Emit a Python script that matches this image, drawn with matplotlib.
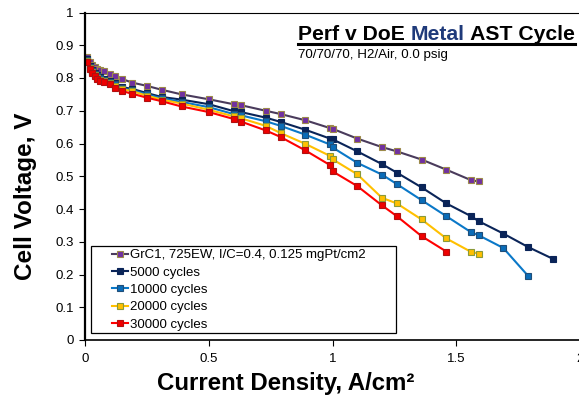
import matplotlib
matplotlib.use("Agg")
import matplotlib.pyplot as plt
from matplotlib.lines import Line2D
from matplotlib.patches import Rectangle

plt.rcParams['font.family'] = ['Liberation Sans', 'DejaVu Sans']

# Polarization data
j_base = [0.01, 0.02, 0.03, 0.04, 0.05, 0.06, 0.075, 0.1, 0.12, 0.15, 0.19, 0.25, 0.31, 0.39,
          0.5, 0.6, 0.63, 0.73, 0.79, 0.89, 0.99, 1.0, 1.1, 1.2, 1.26, 1.36, 1.46, 1.56, 1.59]
v_base = [0.864, 0.848, 0.840, 0.834, 0.829, 0.825, 0.820, 0.811, 0.805, 0.797, 0.786, 0.776, 0.764, 0.750,
          0.735, 0.720, 0.717, 0.700, 0.690, 0.671, 0.647, 0.645, 0.615, 0.589, 0.576, 0.551, 0.520, 0.488, 0.484]

j_5k = [0.01, 0.02, 0.03, 0.04, 0.05, 0.06, 0.075, 0.1, 0.12, 0.15, 0.19, 0.25, 0.31, 0.39,
        0.5, 0.6, 0.63, 0.73, 0.79, 0.89, 0.99, 1.0, 1.1, 1.2, 1.26, 1.36, 1.46, 1.56, 1.59,
        1.69, 1.79, 1.89]
v_5k = [0.858, 0.838, 0.825, 0.815, 0.808, 0.802, 0.797, 0.791, 0.784, 0.772, 0.767, 0.754, 0.742, 0.734,
        0.720, 0.699, 0.696, 0.679, 0.666, 0.642, 0.615, 0.613, 0.576, 0.537, 0.511, 0.466, 0.417, 0.378, 0.363,
        0.325, 0.284, 0.248]

j_10k = [0.01, 0.02, 0.03, 0.04, 0.05, 0.06, 0.075, 0.1, 0.12, 0.15, 0.19, 0.25, 0.31, 0.39,
         0.5, 0.6, 0.63, 0.73, 0.79, 0.89, 0.99, 1.0, 1.1, 1.2, 1.26, 1.36, 1.46, 1.56, 1.59,
         1.69, 1.79]
v_10k = [0.855, 0.835, 0.822, 0.812, 0.805, 0.799, 0.794, 0.788, 0.781, 0.768, 0.763, 0.750, 0.738, 0.727,
         0.711, 0.690, 0.686, 0.668, 0.654, 0.627, 0.597, 0.588, 0.541, 0.505, 0.476, 0.427, 0.378, 0.329, 0.320,
         0.281, 0.196]

j_20k = [0.01, 0.02, 0.03, 0.04, 0.05, 0.06, 0.075, 0.1, 0.12, 0.15, 0.19, 0.25, 0.31, 0.39,
         0.5, 0.6, 0.63, 0.73, 0.79, 0.89, 0.99, 1.0, 1.1, 1.2, 1.26, 1.36, 1.46, 1.56, 1.59]
v_20k = [0.852, 0.832, 0.818, 0.808, 0.801, 0.795, 0.791, 0.785, 0.777, 0.766, 0.760, 0.746, 0.734, 0.722,
         0.703, 0.683, 0.677, 0.654, 0.632, 0.599, 0.562, 0.552, 0.506, 0.434, 0.417, 0.368, 0.310, 0.269, 0.264]

j_30k = [0.01, 0.02, 0.03, 0.04, 0.05, 0.06, 0.075, 0.1, 0.12, 0.15, 0.19, 0.25, 0.31, 0.39,
         0.5, 0.6, 0.63, 0.73, 0.79, 0.89, 0.99, 1.0, 1.1, 1.2, 1.26, 1.36, 1.46]
v_30k = [0.849, 0.828, 0.815, 0.805, 0.798, 0.792, 0.787, 0.782, 0.768, 0.760, 0.752, 0.740, 0.729, 0.713,
         0.696, 0.675, 0.667, 0.640, 0.620, 0.579, 0.534, 0.515, 0.470, 0.411, 0.378, 0.317, 0.270]

labels = ["GrC1, 725EW, I/C=0.4, 0.125 mgPt/cm2", "5000 cycles", "10000 cycles",
          "20000 cycles", "30000 cycles"]
xticks = [0, 0.5, 1, 1.5, 2]
xtick_labels = ["0", "0.5", "1", "1.5", "2"]
yticks = [0, 0.1, 0.2, 0.3, 0.4, 0.5, 0.6, 0.7, 0.8, 0.9, 1.0]
ytick_labels = ["0", "0.1", "0.2", "0.3", "0.4", "0.5", "0.6", "0.7", "0.8", "0.9", "1"]

# (line colour, marker face, marker edge)
styles = [("#4a3b5c", "#7030a0", "#9c8a4a"),
          ("#0a2458", "#0a2458", "#0a2458"),
          ("#0a78c8", "#0a6cb8", "#1f4e79"),
          ("#ffc000", "#ffc000", "#8a9a3a"),
          ("#ff0000", "#ee0000", "#b01010")]

fig = plt.figure(figsize=(5.79, 4.0), dpi=100)
ax = fig.add_axes([85 / 579, 60 / 400, 495 / 579, 327.5 / 400])

series = [(j_base, v_base), (j_5k, v_5k), (j_10k, v_10k), (j_20k, v_20k), (j_30k, v_30k)]
for (j, v), lab, (lc, fc, ec) in zip(series, labels, styles):
    ax.plot(j, v, color=lc, lw=1.5, marker='s', ms=5, mfc=fc, mec=ec, mew=0.8, label=lab)

ax.set_xlim(0, 2)
ax.set_ylim(0, 1)
ax.set_xticks(xticks)
ax.set_xticklabels(xtick_labels)
ax.set_yticks(yticks)
ax.set_yticklabels(ytick_labels)
ax.tick_params(labelsize=9.5, direction='out', length=4, width=0.8, color='black')
ax.tick_params(axis='x', pad=5)
ax.tick_params(axis='y', pad=4)
ax.spines['left'].set_linewidth(1.6)
ax.spines['bottom'].set_linewidth(1.2)
ax.spines['top'].set_linewidth(0.8)

fig.text(26 / 579, (400 - 196.5) / 400, "Cell Voltage, V", fontsize=17.5, fontweight='bold',
         rotation=90, ha='center', va='center')
fig.text(286 / 579, 10 / 400, "Current Density, A/cm²", fontsize=17.3,
         fontweight='bold', ha='center', va='baseline')

# legend entries without frame, frame drawn as a box like the Excel one
leg = ax.legend(loc='upper left', bbox_to_anchor=((112 - 85) / 495, (340 - 249) / 327.5),
                fontsize=9.5, frameon=False, handlelength=1.2, handletextpad=0.15,
                labelspacing=0.39, borderpad=0, borderaxespad=0)
ax.add_patch(Rectangle((6 / 495, 7.3 / 327.5), 305 / 495, 87 / 327.5, transform=ax.transAxes,
                       fill=False, edgecolor='black', lw=0.9, zorder=5))

# Title with coloured word and underline
fig.canvas.draw()
renderer = fig.canvas.get_renderer()
x0 = 298 / 579
y0 = (400 - 39.5) / 400
x = x0
parts = [("Perf v DoE ", "black"), ("Metal", "#1f3a7a"), (" AST Cycle", "black")]
for txt, col in parts:
    t = fig.text(x, y0, txt, fontsize=15.2, fontweight='bold', color=col, va='baseline', ha='left')
    bb = t.get_window_extent(renderer)
    x = x + bb.width / fig.bbox.width
fig.add_artist(Line2D([x0, x], [y0 - 4.5 / 400] * 2, color='black', lw=2.2,
                      transform=fig.transFigure))
fig.text(x0, (400 - 58) / 400, "70/70/70, H2/Air, 0.0 psig", fontsize=9.6, va='baseline', ha='left')

fig.savefig("out.png", dpi=100)
